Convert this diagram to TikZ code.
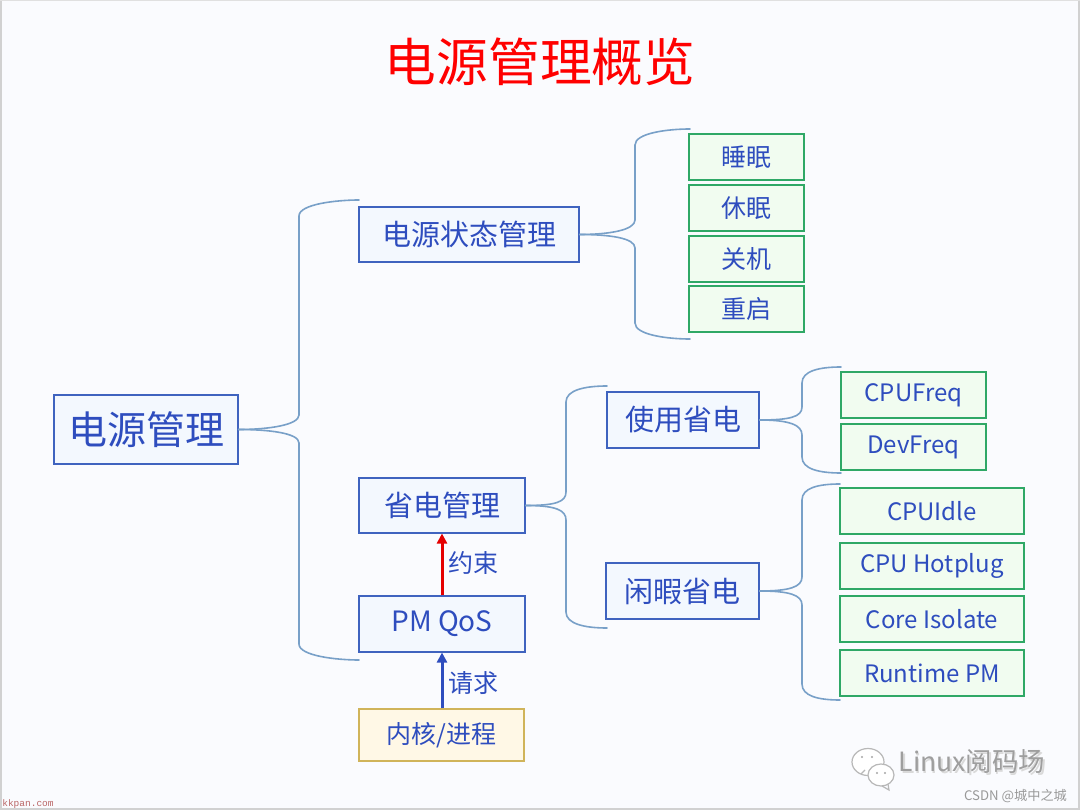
\documentclass[tikz,border=0pt]{standalone}
\usepackage{fontspec}
\setmainfont{Noto Sans CJK SC}
\newfontfamily\wmfont{Liberation Mono}
\usetikzlibrary{arrows.meta,calc}
\definecolor{bgc}{HTML}{FAFBFE}
\definecolor{bluetxt}{HTML}{2E4DBE}
\definecolor{blueline}{HTML}{3F63BF}
\definecolor{bluefill}{HTML}{F3F8FE}
\definecolor{greenline}{HTML}{2FA866}
\definecolor{greenfill}{HTML}{F1FCF0}
\definecolor{yelline}{HTML}{D0B45A}
\definecolor{yelfill}{HTML}{FFF8E6}
\definecolor{conn}{HTML}{78A0C8}
\tikzset{
  boxbase/.style={rectangle,inner sep=0pt,line width=1.1pt,text=bluetxt,anchor=center},
  bluebox/.style={boxbase,draw=blueline,fill=bluefill},
  greenbox/.style={boxbase,draw=greenline,fill=greenfill,font=\fontsize{25}{30}\selectfont},
  latbox/.style={greenbox,font=\fontsize{24}{30}\selectfont},
  yelbox/.style={boxbase,draw=yelline,fill=yelfill,font=\fontsize{25}{30}\selectfont},
  midfont/.style={font=\fontsize{29}{34}\selectfont},
  brk/.style={draw=conn,line width=1.6pt,line cap=round},
  lbl/.style={text=bluetxt,font=\fontsize{25}{30}\selectfont,inner sep=0pt},
  bubble/.style={draw=black!28,fill=white,line width=1.2pt},
}
\newcommand{\lat}[1]{\raisebox{-1.5pt}{#1}}
% box: style, name, x0, y0, x1, y1, text
\newcommand{\mkbox}[7]{\node[#1,minimum width=#5pt-#3pt,minimum height=#6pt-#4pt] (#2) at ({(#3+#5)/2},{(#4+#6)/2}) {#7};}
% bracket: source node, x of spine, y of source, top tip name/x/y, bottom tip name/x/y
\newcommand{\bracket}[9]{%
  \coordinate (#4) at (#5,#6);
  \coordinate (#7) at (#8,#9);
  \draw[brk] (#1.east) .. controls ($(#1.east)+(30,0)$) and (#2,#3-4) .. (#2,#3-14)
     -- (#2,#6+16) .. controls (#2,#6+4) and ($(#4)-(22,0)$) .. (#4);
  \draw[brk] (#1.east) .. controls ($(#1.east)+(30,0)$) and (#2,#3+4) .. (#2,#3+14)
     -- (#2,#9-16) .. controls (#2,#9-4) and ($(#7)-(22,0)$) .. (#7);
}
\begin{document}
\begin{tikzpicture}[x=1pt,y=-1pt]
\useasboundingbox (0,0) rectangle (1080,810);
\fill[bgc] (0,0) rectangle (1080,810);
\fill[black!18] (0,0) rectangle (1.5,810);
\fill[black!18] (0,807.5) rectangle (1080,810);
\fill[black!18] (1077.5,0) rectangle (1080,810);
\fill[black!12] (0,0) rectangle (1080,1);

\node[text=red,font=\fontsize{51.7}{60}\selectfont,inner sep=0pt] (title) at (540,62) {电源管理概览};

\mkbox{bluebox,font=\fontsize{39}{44}\selectfont}{r}{54}{395}{238}{464}{电源管理}
\mkbox{bluebox,midfont}{st}{359}{207}{579}{262}{电源状态管理}
\mkbox{bluebox,midfont}{sv}{359}{478}{525}{533}{省电管理}
\mkbox{bluebox,font=\fontsize{28}{32}\selectfont}{qos}{359}{596}{525}{652}{\lat{PM QoS}}
\mkbox{yelbox}{kp}{359}{709}{524}{761}{内核/进程}
\mkbox{bluebox,midfont}{us}{607}{392}{759}{448}{使用省电}
\mkbox{bluebox,midfont}{id}{606}{563}{759}{619}{闲暇省电}
\mkbox{greenbox}{g1}{689}{134}{804}{180}{睡眠}
\mkbox{greenbox}{g2}{689}{185}{804}{231}{休眠}
\mkbox{greenbox}{g3}{689}{236}{804}{282}{关机}
\mkbox{greenbox}{g4}{689}{286}{804}{332}{重启}
\mkbox{latbox}{f1}{841}{372}{986}{418}{\lat{CPUFreq}}
\mkbox{latbox}{f2}{841}{424}{986}{470}{\lat{DevFreq}}
\mkbox{latbox}{c1}{840}{488}{1024}{534}{\lat{CPUIdle}}
\mkbox{latbox}{c2}{840}{543}{1024}{589}{\lat{CPU Hotplug}}
\mkbox{latbox}{c3}{840}{596}{1024}{642}{\lat{Core Isolate}}
\mkbox{latbox}{c4}{840}{650}{1024}{696}{\lat{Runtime PM}}

\bracket{r}{299}{429}{ra}{359}{200}{rb}{359}{660}
\bracket{st}{635}{234}{sa}{690}{129}{sb}{690}{339}
\bracket{sv}{566}{506}{va}{607}{386}{vb}{607}{628}
\bracket{us}{802}{421}{ua}{841}{367}{ub}{841}{473}
\bracket{id}{802}{591}{ia}{840}{484}{ib}{840}{700}

\draw[red!90!black,line width=3pt,-{Triangle[length=10pt,width=10pt]}] (qos.north -| 442,0) -- (sv.south -| 442,0);
\draw[bluetxt,line width=3pt,-{Triangle[length=10pt,width=10pt]}] (kp.north -| 442,0) -- (qos.south -| 442,0);
\node[lbl] (l1) at (473,563) {约束};
\node[lbl] (l2) at (473,683) {请求};

% watermark
\draw[bubble] (868,762) ellipse (16 and 13.5);
\draw[bubble] (861,774) -- (865,770);
\draw[bubble] (881,775) ellipse (13 and 11);
\draw[bubble,fill=none] (888,784) -- (889,790) -- (882,786);
\fill[black!35] (862,757) circle (1.2) (872,757) circle (1.2) (877,773) circle (1.2) (885,773) circle (1.2);
\node[text=black!15,font=\fontsize{26.5}{32}\selectfont,inner sep=0pt] at (973.5,763.5) {Linux阅码场};
\node[text=black!38,font=\fontsize{26.5}{32}\selectfont,inner sep=0pt] (wm) at (972,762) {Linux阅码场};
\node[text=black!40,font=\fontsize{13.2}{16}\selectfont,inner sep=0pt] (cs) at (1015.5,796) {CSDN @城中之城};
\node[text=red!55!black!60,font=\wmfont\fontsize{9.5}{11}\selectfont,inner sep=0pt] (kk) at (28,804) {kkpan.com};
\end{tikzpicture}
\end{document}
